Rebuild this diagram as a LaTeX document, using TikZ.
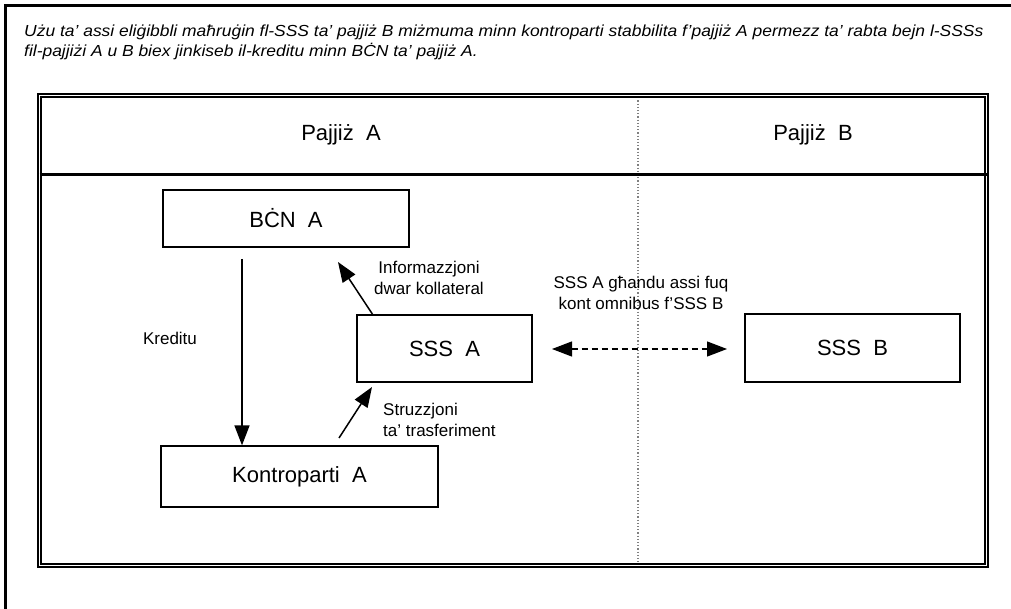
\documentclass[tikz,border=0pt]{standalone}
\usepackage{fontspec}
\setmainfont{Liberation Sans}
\usetikzlibrary{arrows.meta}
\begin{document}
\begin{tikzpicture}[x=1pt,y=-1pt,
  box/.style={draw, line width=1.3pt, inner sep=0pt, font=\fontsize{22}{26}\selectfont},
  hdr/.style={font=\fontsize{22}{26}\selectfont, inner sep=0pt},
  lbl/.style={font=\fontsize{17}{21}\selectfont, inner sep=0pt},
  arr/.style={line width=1.5pt, -{Triangle[length=20pt,width=15pt]}},
  frame/.style={double, double distance=1.6pt, line width=1.6pt}]
\useasboundingbox (0,0) rectangle (1011,609);
% outer lines
\draw[line width=2.5pt] (5.5,609) -- (5.5,5.5) -- (1011,5.5);
% title
\node[anchor=north west, inner sep=0pt, align=left, font=\fontsize{16}{19.5}\selectfont\itshape] (title) at (24,25)
 {\scalebox{1.09}[1]{Użu ta' assi eliġibbli maħruġin fl-SSS ta' pajjiż B miżmuma minn kontroparti stabbilita f'pajjiż A permezz ta' rabta bejn l-SSSs}\\
 \scalebox{1.09}[1]{fil-pajjiżi A u B biex jinkiseb il-kreditu minn BĊN ta' pajjiż A.}};
% dotted divider
\coordinate (dtop) at (638,94);
\coordinate (dbot) at (638,567);
\draw[gray, dotted, line width=1.2pt] (dtop) -- (dbot);
% frame
\draw[frame] (39.5,95.5) rectangle (986.5,565.5);
\coordinate (hl) at (39.5,174.5);
\coordinate (hr) at (986.5,174.5);
\draw[line width=2.5pt] (hl) -- (hr);
% headers
\node[hdr] (pa) at (341,135) {Pajjiż\ \ A};
\node[hdr] (pb) at (813,135) {Pajjiż\ \ B};
% boxes
\node[box, minimum width=246pt, minimum height=57pt] (bcn) at (286,218.5) {BĊN\ \ A};
\node[box, minimum width=175pt, minimum height=67pt] (sssa) at (444.5,348.5) {SSS\ \ A};
\node[box, minimum width=277pt, minimum height=61pt] (kont) at (299.5,476.5) {Kontroparti\ \ A};
\node[box, minimum width=215pt, minimum height=68pt] (sssb) at (852.5,348) {SSS\ \ B};
% Kreditu arrow
\coordinate (k1) at (242,259);
\draw[arr] (k1) -- (k1 |- kont.north);
\node[lbl] (kred) at (170,338) {Kreditu};
% info arrow
\coordinate (i1) at (373,315);
\coordinate (i2) at (338,262);
\draw[arr] (i1) -- (i2);
\node[lbl, align=center] (info) at (429,278) {Informazzjoni\\dwar\ kollateral};
% struzzjoni arrow
\coordinate (s1) at (339,438);
\coordinate (s2) at (372,387);
\draw[arr] (s1) -- (s2);
\node[lbl, align=left, anchor=west] (str) at (383,420) {Struzzjoni\\ta'\ trasferiment};
% dashed link
\coordinate (d1) at (552,349);
\coordinate (d2) at (727,349);
\draw[line width=1.2pt, dash pattern=on 6pt off 4pt, {Triangle[length=20pt,width=15pt]}-{Triangle[length=20pt,width=15pt]}] (d1) -- (d2);
\node[lbl, align=center] (omn) at (641,293) {SSS A għandu assi fuq\\kont omnibus f'SSS B};
\end{tikzpicture}
\end{document}
